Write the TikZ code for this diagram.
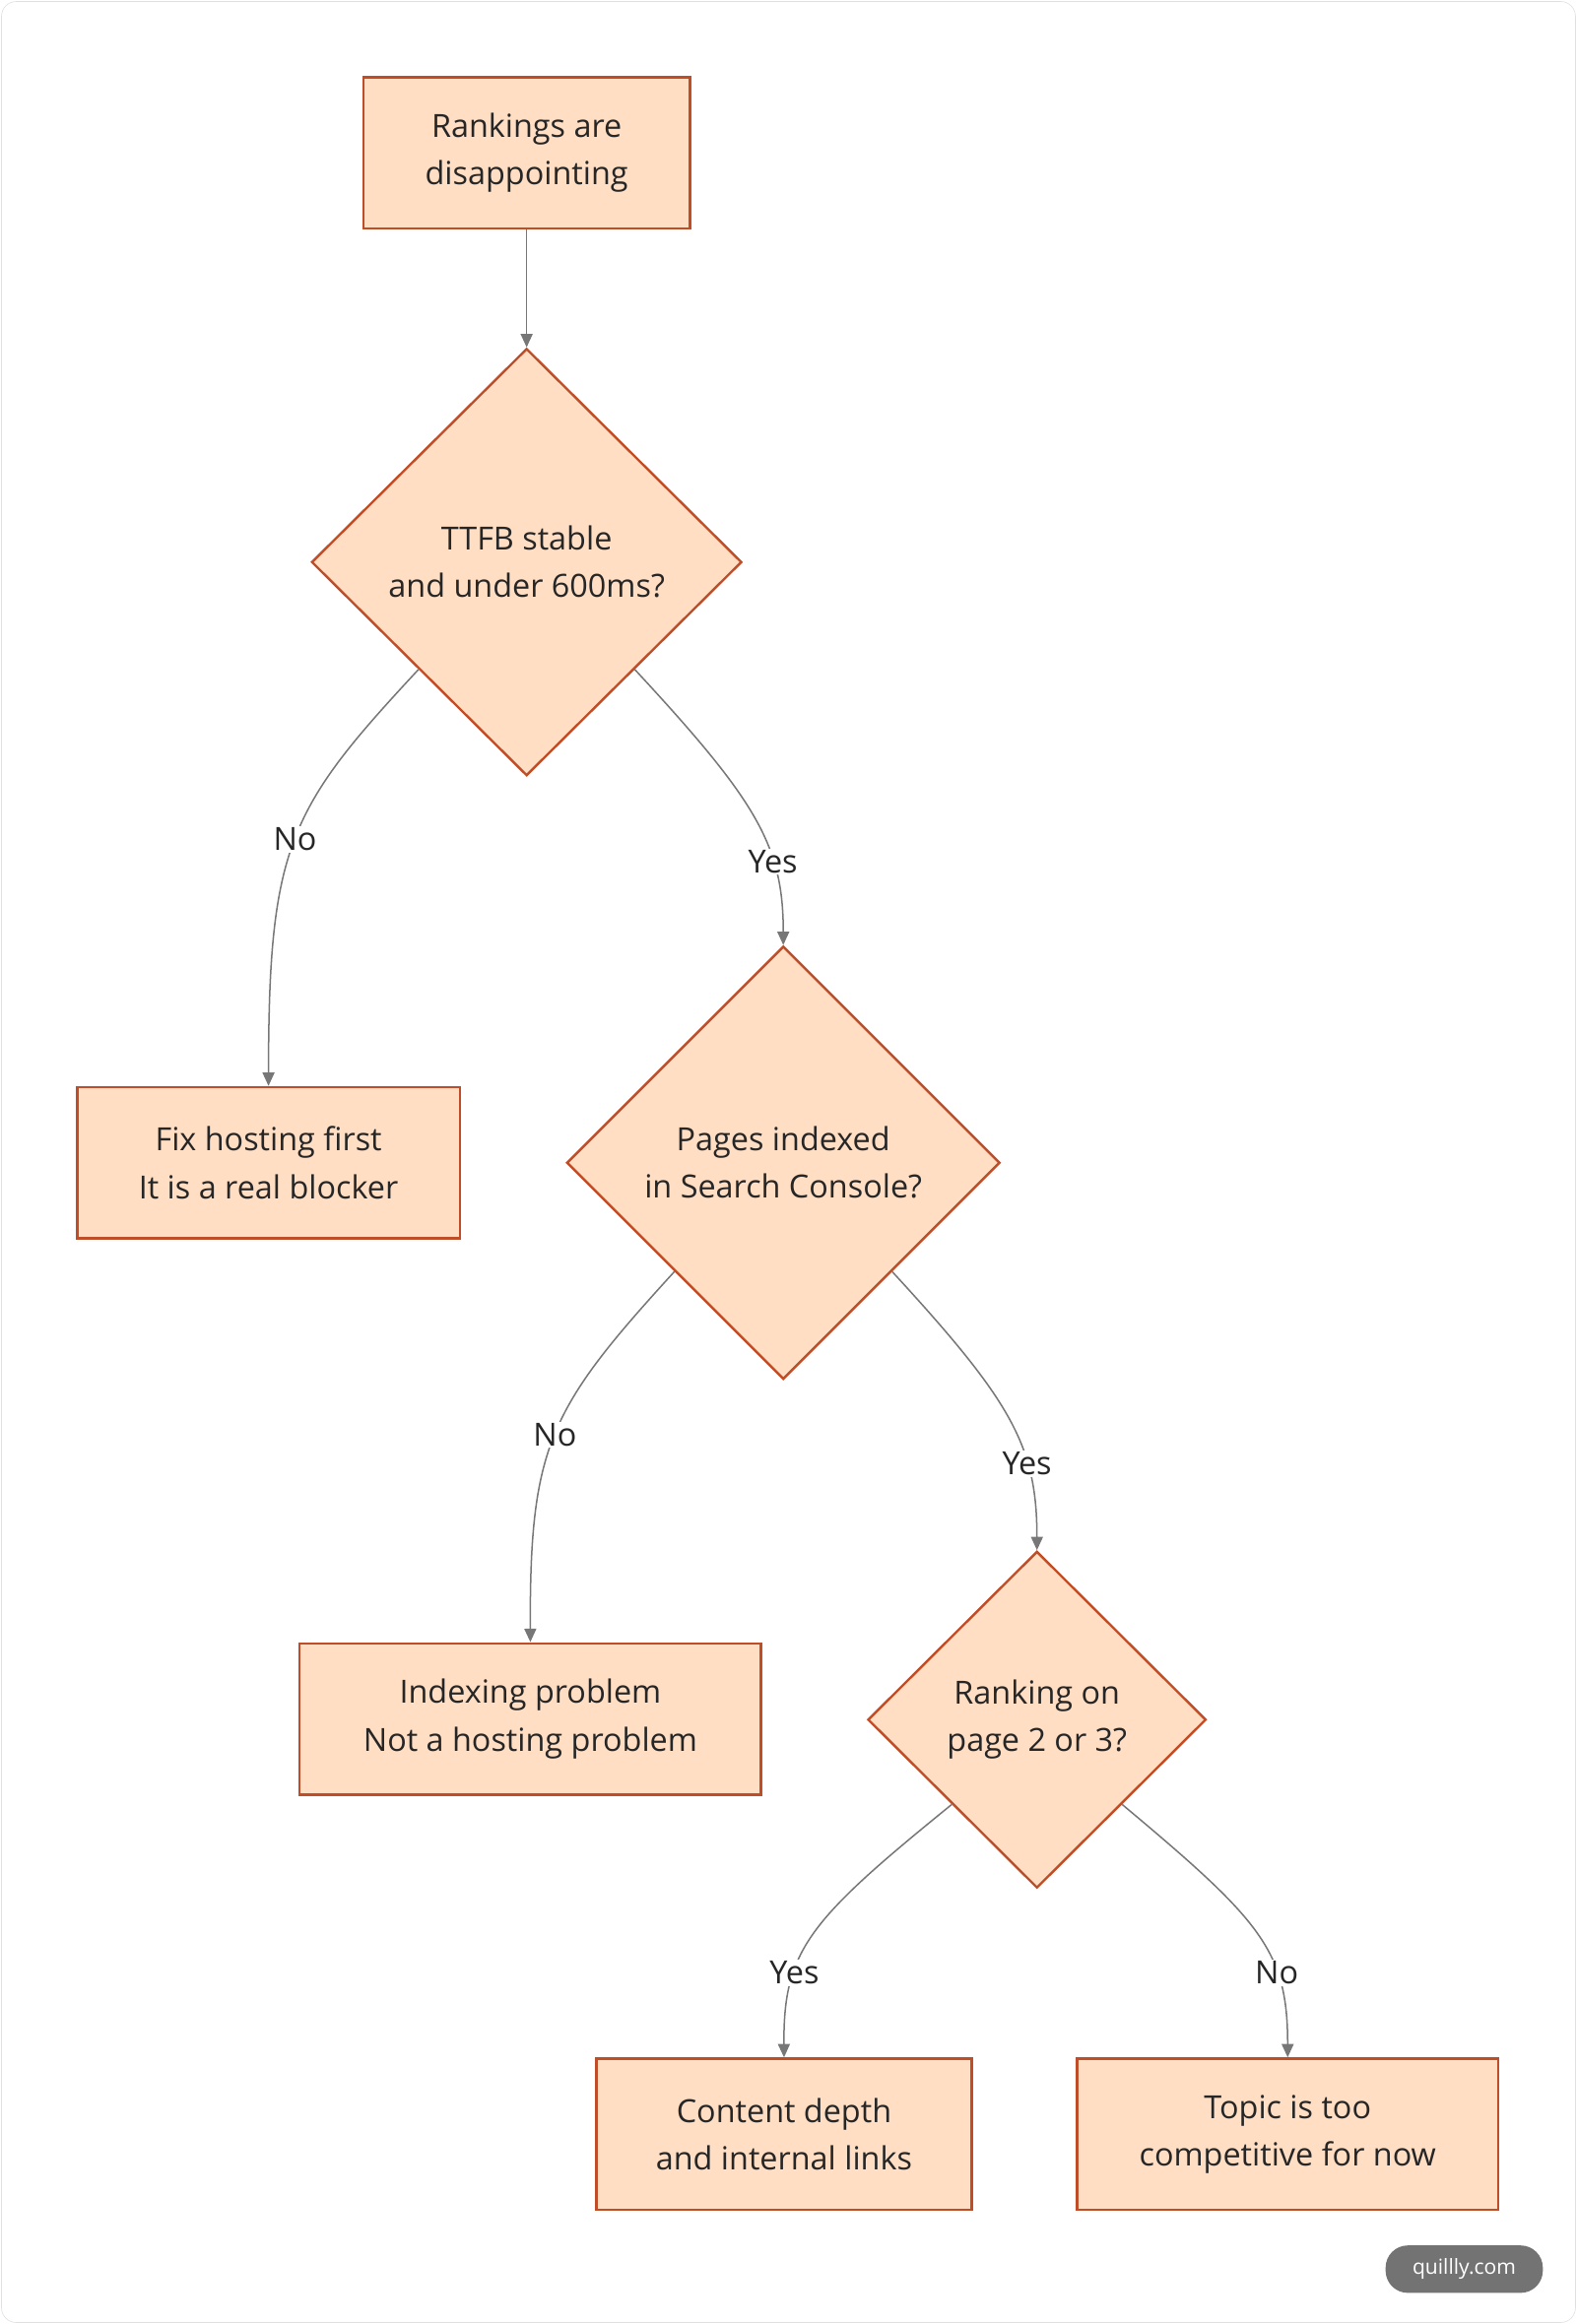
\documentclass[tikz,border=0pt]{standalone}
\usepackage{fontspec}
\setmainfont{Open Sans}
\usetikzlibrary{shapes.geometric,arrows.meta}
\definecolor{fillc}{HTML}{FFDEC4}
\definecolor{strokec}{HTML}{BF4E28}
\definecolor{edgec}{HTML}{777777}
\begin{document}
\begin{tikzpicture}[x=1pt,y=-1pt,
  box/.style={draw=strokec,fill=fillc,line width=1.6pt,minimum height=102pt,align=center,font=\fontsize{21.5}{32}\selectfont,text=black!85},
  dia/.style={diamond,draw=strokec,fill=fillc,line width=1.6pt,inner sep=0pt,align=center,font=\fontsize{21.5}{32}\selectfont,text=black!85},
  edge/.style={draw=edgec,line width=1pt,-{Triangle[length=9pt,width=8pt]}},
  lab/.style={fill=white,inner sep=1pt,font=\fontsize{21.5}{24}\selectfont,text=black!85}]
\useasboundingbox (0,0) rectangle (1063,1567);
\draw[draw=black!12,fill=white,rounded corners=10pt] (1,1) rectangle (1062,1566);
\node[box,minimum width=220pt] (a) at (355,103) {Rankings are\\disappointing};
\node[dia,minimum width=290pt,minimum height=288pt] (d1) at (355,379) {TTFB stable\\and under 600ms?};
\node[box,minimum width=258pt] (fix) at (181,784) {Fix hosting first\\It is a real blocker};
\node[dia,minimum width=292pt,minimum height=292pt] (d2) at (528,784) {Pages indexed\\in Search Console?};
\node[box,minimum width=311pt] (idx) at (357.5,1159) {Indexing problem\\Not a hosting problem};
\node[dia,minimum width=228pt,minimum height=227pt] (d3) at (699,1159.5) {Ranking on\\page 2 or 3?};
\node[box,minimum width=253pt] (cont) at (528.5,1439) {Content depth\\and internal links};
\node[box,minimum width=284pt] (top) at (868,1439) {Topic is too\\competitive for now};
\draw[edge] (a) -- (d1);
\draw[edge] (d1.south west) .. controls (195,545) and (181,570) .. node[lab,pos=0.5]{No} (fix.north);
\draw[edge] (d1.south east) .. controls (510,540) and (528,570) .. node[lab,pos=0.68]{Yes} (d2.north);
\draw[edge] (d2.south west) .. controls (370,950) and (357,975) .. node[lab,pos=0.5]{No} (idx.north);
\draw[edge] (d2.south east) .. controls (682,945) and (699,975) .. node[lab,pos=0.68]{Yes} (d3.north);
\draw[edge] (d3.south west) .. controls (545,1295) and (528,1315) .. node[lab,pos=0.68]{Yes} (cont.north);
\draw[edge] (d3.south east) .. controls (850,1295) and (868,1315) .. node[lab,pos=0.68]{No} (top.north);
\node[fill=black!55,rounded corners=15pt,minimum width=106pt,minimum height=32pt,text=white,font=\fontsize{14}{16}\selectfont] (badge) at (987,1530) {quillly.com};
\end{tikzpicture}
\end{document}
